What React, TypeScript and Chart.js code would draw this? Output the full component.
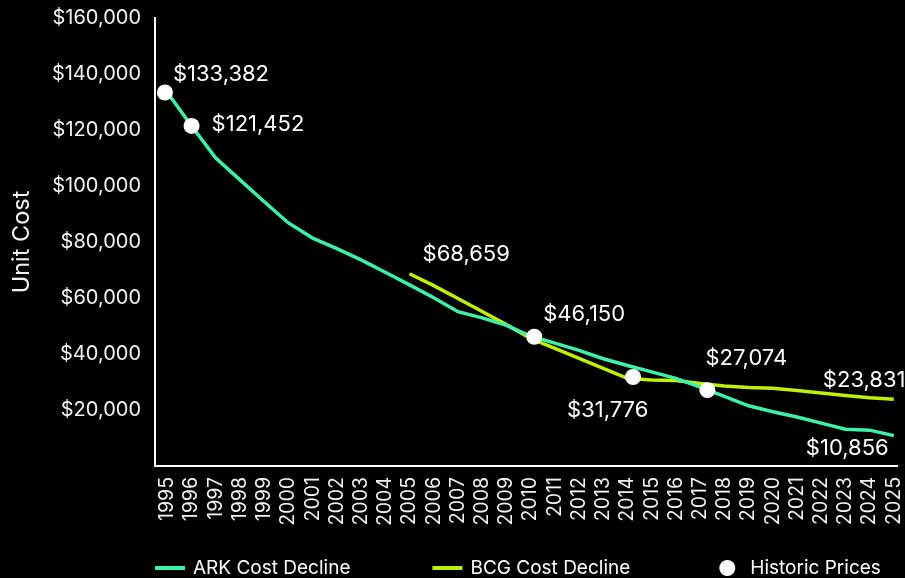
import React, { useEffect, useRef } from 'react';
import { Chart, registerables } from 'chart.js';

Chart.register(...registerables);

const years = [
  1995, 1996, 1997, 1998, 1999, 2000, 2001, 2002, 2003, 2004, 2005, 2006, 2007, 2008, 2009, 2010,
  2011, 2012, 2013, 2014, 2015, 2016, 2017, 2018, 2019, 2020, 2021, 2022, 2023, 2024, 2025,
];
const arkCost = [
  133382, 121452, 110000, 102200, 94400, 86800, 81400, 77600, 73600, 69200, 64700, 60100, 55100,
  52900, 50200, 46400, 43900, 41300, 38300, 35900, 33600, 31300, 28200, 24850, 21500, 19400,
  17500, 15300, 13100, 12800, 10856,
];
const bcgYears = [
  2005, 2006, 2007, 2008, 2009, 2010, 2011, 2012, 2013, 2014, 2015, 2016, 2017, 2018, 2019, 2020,
  2021, 2022, 2023, 2024, 2025,
];
const bcgCost = [
  68659, 64400, 59800, 55200, 50500, 45600, 42000, 38400, 34850, 31300, 30750, 30550, 29500, 28600,
  28050, 27800, 27000, 26100, 25200, 24400, 23831,
];
const historicYears = [1994.9, 1996, 2010.15, 2014.23, 2017.3];
const historicPrices = [133382, 121452, 46150, 31776, 27074];

const FONT = 'Inter, "Noto Sans", sans-serif';
const ARK_COLOR = '#3FF0A8';
const BCG_COLOR = '#BFF000';

const fmt = (v: number) => '$' + Math.round(v).toLocaleString('en-US');

const labelSpecs = [
  { ds: 2, i: 0, dx: 8, dy: -18 },
  { ds: 2, i: 1, dx: 20, dy: -2 },
  { ds: 2, i: 2, dx: 9, dy: -22 },
  { ds: 2, i: 3, dx: -66, dy: 33 },
  { ds: 2, i: 4, dx: -2, dy: -32 },
  { ds: 1, i: 0, dx: 13, dy: -19 },
  { ds: 1, i: -1, dx: -71, dy: -19 },
  { ds: 0, i: -1, dx: -88, dy: 13 },
];

const bgPlugin = {
  id: 'bg',
  beforeDraw(chart: any) {
    const { ctx } = chart;
    ctx.save();
    ctx.fillStyle = '#000';
    ctx.fillRect(0, 0, chart.width, chart.height);
    ctx.restore();
  },
};

const dataLabelPlugin = {
  id: 'dataLabels',
  afterDatasetsDraw(chart: any) {
    const { ctx } = chart;
    ctx.save();
    ctx.font = `22px ${FONT}`;
    ctx.fillStyle = '#ffffff';
    ctx.textBaseline = 'middle';
    ctx.textAlign = 'left';
    labelSpecs.forEach((s) => {
      const meta = chart.getDatasetMeta(s.ds);
      const data = chart.data.datasets[s.ds].data as any[];
      const idx = s.i < 0 ? data.length + s.i : s.i;
      const el = meta.data[idx];
      const value = data[idx].y;
      ctx.fillText(fmt(value), el.x + s.dx, el.y + s.dy);
    });
    ctx.restore();
  },
};

const legendPlugin = {
  id: 'customLegend',
  afterDraw(chart: any) {
    const { ctx } = chart;
    const y = chart.height - 10;
    let x = chart.chartArea.left;
    ctx.save();
    ctx.font = `19px ${FONT}`;
    ctx.textBaseline = 'middle';
    ctx.textAlign = 'left';
    chart.data.datasets.forEach((ds: any) => {
      if (ds.showLine === false) {
        ctx.fillStyle = '#ffffff';
        ctx.beginPath();
        ctx.arc(x + 15, y, 8, 0, Math.PI * 2);
        ctx.fill();
      } else {
        ctx.fillStyle = ds.borderColor;
        ctx.fillRect(x, y - 2, 30, 4);
      }
      ctx.fillStyle = '#ffffff';
      ctx.fillText(ds.label, x + 38, y);
      x += 38 + ctx.measureText(ds.label).width + 82;
    });
    ctx.restore();
  },
};

export default function App() {
  const ref = useRef<HTMLCanvasElement | null>(null);

  useEffect(() => {
    if (!ref.current) return;
    const chart = new Chart(ref.current, {
      type: 'line',
      data: {
        datasets: [
          {
            label: 'ARK Cost Decline',
            data: years.map((x, i) => ({ x, y: arkCost[i] })),
            borderColor: ARK_COLOR,
            backgroundColor: ARK_COLOR,
            borderWidth: 3.5,
            pointRadius: 0,
            tension: 0,
            order: 1,
          },
          {
            label: 'BCG Cost Decline',
            data: bcgYears.map((x, i) => ({ x, y: bcgCost[i] })),
            borderColor: BCG_COLOR,
            backgroundColor: BCG_COLOR,
            borderWidth: 3.5,
            pointRadius: 0,
            tension: 0,
            order: 2,
          },
          {
            label: 'Historic Prices',
            data: historicYears.map((x, i) => ({ x, y: historicPrices[i] })),
            showLine: false,
            borderColor: '#ffffff',
            backgroundColor: '#ffffff',
            pointRadius: 8,
            pointBorderWidth: 0,
            order: 0,
          },
        ],
      },
      options: {
        animation: false,
        responsive: false,
        layout: { padding: { top: 18, right: 0, bottom: 42, left: 0 } },
        plugins: {
          legend: { display: false },
          tooltip: { enabled: false },
        },
        scales: {
          x: {
            type: 'linear',
            min: 1994.49,
            max: 2025.13,
            afterBuildTicks: (scale: any) => {
              scale.ticks = years.map((v) => ({ value: v }));
            },
            afterFit: (scale: any) => {
              scale.height = 70;
              scale.paddingLeft = 0;
              scale.paddingRight = 0;
            },
            ticks: {
              autoSkip: false,
              minRotation: 90,
              maxRotation: 90,
              padding: 11,
              color: '#f2f2f2',
              font: { family: FONT, size: 19.5 },
              callback: (v: any) => String(v),
            },
            grid: { display: false, drawTicks: false },
            border: { display: true, color: '#ffffff', width: 2 },
          },
          y: {
            min: 0,
            max: 160000,
            afterFit: (scale: any) => {
              scale.width = 155;
              scale.paddingTop = 0;
              scale.paddingBottom = 0;
            },
            ticks: {
              stepSize: 20000,
              padding: 14,
              color: '#f2f2f2',
              font: { family: FONT, size: 20 },
              callback: (v: any) => (v === 0 ? '' : fmt(Number(v))),
            },
            grid: { display: false, drawTicks: false },
            border: { display: true, color: '#ffffff', width: 2 },
            title: {
              display: true,
              text: 'Unit Cost',
              color: '#f2f2f2',
              font: { family: FONT, size: 23.5 },
              padding: { top: 8, bottom: 4 },
            },
          },
        },
      },
      plugins: [bgPlugin, dataLabelPlugin, legendPlugin],
    } as any);
    return () => chart.destroy();
  }, []);

  return (
    <div
      style={{
        position: 'absolute',
        left: 0,
        top: 0,
        width: 905,
        height: 578,
        overflow: 'hidden',
        background: '#000',
      }}
    >
      <canvas ref={ref} width={905} height={578} style={{ display: 'block' }} />
    </div>
  );
}
